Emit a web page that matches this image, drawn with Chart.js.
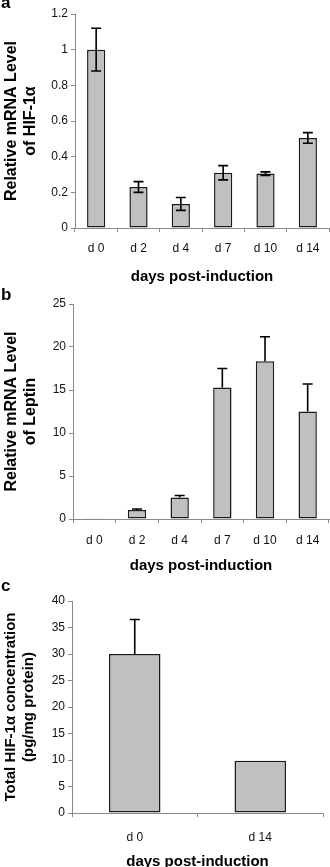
<!DOCTYPE html>
<html>
<head>
<meta charset="utf-8">
<script src="https://cdn.jsdelivr.net/npm/chart.js@4.4.1/dist/chart.umd.min.js"></script>
<style>
  html, body { margin: 0; padding: 0; background: #fff; width: 330px; height: 867px; overflow: hidden; }
  .panel { position: absolute; left: 0; width: 330px; }
  .tag { position: absolute; left: 1px; font: bold 17px "Liberation Sans", Arial, sans-serif; color: #000; line-height: 17px; }
</style>
</head>
<body>
<div class="panel" style="top:0;height:290px"><canvas id="chartA"></canvas></div>
<div class="panel" style="top:290px;height:290px"><canvas id="chartB"></canvas></div>
<div class="panel" style="top:580px;height:292px"><canvas id="chartC"></canvas></div>
<div class="tag" style="top:-6px">a</div>
<div class="tag" style="top:286px">b</div>
<div class="tag" style="top:577px">c</div>
<script>
// values
const days = ['d 0', 'd 2', 'd 4', 'd 7', 'd 10', 'd 14'];
const hifMrna = [1.0, 0.23, 0.135, 0.31, 0.305, 0.505];
const hifMrnaErr = [0.12, 0.03, 0.036, 0.04, 0.01, 0.03];
const leptinMrna = [0.1, 1.05, 2.5, 15.3, 18.35, 12.5];
const leptinErr = [0, 0.12, 0.23, 2.2, 2.85, 3.2];
const proteinDays = ['d 0', 'd 14'];
const hifProtein = [30, 9.85];
const hifProteinErr = [6.5, 0];

const yTicksA = ['0', '0.2', '0.4', '0.6', '0.8', '1', '1.2'];
const yTicksB = ['0', '5', '10', '15', '20', '25'];
const yTicksC = ['0', '5', '10', '15', '20', '25', '30', '35', '40'];

const FONT = '"Liberation Sans", Arial, sans-serif';
const AXIS = '#8a8a8a';

// draws the error bars on top of the bars
const errorBars = {
    id: 'errorBars',
    afterDatasetsDraw(chart, args, opts) {
        const meta = chart.getDatasetMeta(0);
        const y = chart.scales.y;
        const ctx = chart.ctx;
        const vals = chart.data.datasets[0].data;
        ctx.save();
        ctx.strokeStyle = '#000';
        ctx.lineWidth = 1.6;
        meta.data.forEach((bar, i) => {
            const e = opts.errors[i];
            if (!e) return;
            const top = y.getPixelForValue(vals[i] + e);
            const bot = opts.both ? y.getPixelForValue(vals[i] - e) : bar.y;
            const half = 5;
            ctx.beginPath();
            ctx.moveTo(bar.x, bot);
            ctx.lineTo(bar.x, top);
            ctx.moveTo(bar.x - half, top);
            ctx.lineTo(bar.x + half, top);
            if (opts.both) {
                ctx.moveTo(bar.x - half, bot);
                ctx.lineTo(bar.x + half, bot);
            }
            ctx.stroke();
        });
        ctx.restore();
    }
};

function makePanel(id, p) {
    return new Chart(document.getElementById(id), {
        type: 'bar',
        data: {
            labels: p.labels,
            datasets: [{
                data: p.values,
                backgroundColor: '#c0c0c0',
                borderColor: '#1a1a1a',
                borderWidth: 1.5,
                borderSkipped: false,
                barPercentage: p.barPct,
                categoryPercentage: 1
            }]
        },
        options: {
            responsive: true,
            maintainAspectRatio: false,
            animation: false,
            events: [],
            layout: { padding: { top: p.padTop, right: p.padRight, left: 0, bottom: 0 } },
            plugins: {
                legend: { display: false },
                tooltip: { enabled: false },
                errorBars: { errors: p.errors, both: p.both }
            },
            scales: {
                x: {
                    offset: true,
                    grid: { display: true, offset: true, drawOnChartArea: false, drawTicks: true, tickLength: 4, color: AXIS },
                    border: { display: true, color: AXIS, width: 1 },
                    ticks: { color: '#111', font: { family: FONT, size: 12 }, padding: p.xTickPad, maxRotation: 0 },
                    title: {
                        display: true, text: 'days post-induction', color: '#000',
                        font: { family: FONT, size: 15, weight: 'bold' },
                        padding: { top: 0, bottom: p.xTitlePad }
                    },
                    afterFit: s => { s.height = p.xHeight; }
                },
                y: {
                    min: 0, max: p.max,
                    ticks: {
                        stepSize: p.step, color: '#111', font: { family: FONT, size: 12 }, padding: 3,
                        callback: (v, i) => p.yTicks[i]
                    },
                    grid: { drawOnChartArea: false, drawTicks: true, tickLength: 4, color: AXIS },
                    border: { display: true, color: AXIS, width: 1 },
                    title: {
                        display: true, text: p.yTitle, color: '#000',
                        font: { family: FONT, size: p.yTitleSize, weight: 'bold' },
                        padding: { top: 2, bottom: 0 }
                    },
                    afterFit: s => { s.width = p.yWidth; }
                }
            }
        },
        plugins: [errorBars]
    });
}

makePanel('chartA', {
    labels: days, values: hifMrna, errors: hifMrnaErr, both: true,
    max: 1.2, step: 0.2, yTicks: yTicksA,
    yTitle: ['Relative mRNA Level', 'of HIF-1\u03b1'], yTitleSize: 16,
    barPct: 0.43, padTop: 14, padRight: 1, yWidth: 75, xHeight: 62, xTickPad: 9, xTitlePad: 4
});

makePanel('chartB', {
    labels: days, values: leptinMrna, errors: leptinErr, both: false,
    max: 25, step: 5, yTicks: yTicksB,
    yTitle: ['Relative mRNA Level', 'of Leptin'], yTitleSize: 16,
    barPct: 0.43, padTop: 14, padRight: 1, yWidth: 73, xHeight: 61, xTickPad: 10, xTitlePad: 5
});

makePanel('chartC', {
    labels: proteinDays, values: hifProtein, errors: hifProteinErr, both: false,
    max: 40, step: 5, yTicks: yTicksC,
    yTitle: ['Total HIF-1\u03b1 concentration', '(pg/mg protein)'], yTitleSize: 15,
    barPct: 0.41, padTop: 21, padRight: 7, yWidth: 72, xHeight: 59, xTickPad: 13, xTitlePad: 1
});
</script>
</body>
</html>
